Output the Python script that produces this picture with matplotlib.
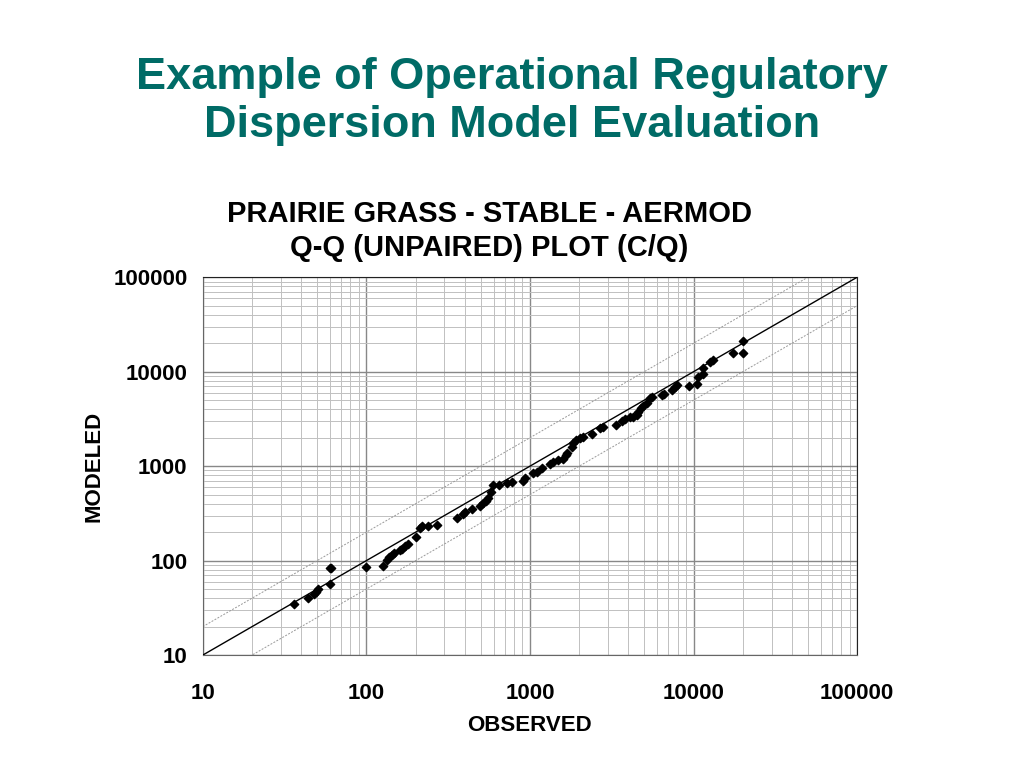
import numpy as np
import matplotlib
matplotlib.use('Agg')
import matplotlib.pyplot as plt

plt.rcParams['font.family'] = ['Liberation Sans', 'DejaVu Sans']

# Q-Q (unpaired) values, C/Q
observed = [36, 44, 48, 49, 51, 60, 60, 61, 99, 126, 133, 137, 143, 147, 160, 166,
            172, 180, 201, 213, 218, 239, 269, 356, 388, 400, 440, 494, 518, 538,
            551, 575, 597, 649, 720, 772, 902, 931, 1047, 1108, 1180, 1325, 1389,
            1490, 1600, 1653, 1691, 1799, 1841, 1911, 2023, 2100, 2384, 2679, 2806,
            3342, 3638, 3811, 4091, 4287, 4496, 4597, 4752, 4932, 5173, 5420, 5550,
            6394, 6600, 7362, 7716, 7896, 9425, 10460, 10700, 11480, 11480, 12620,
            13100, 17370, 20000, 20180]
modeled = [35, 40, 44, 47, 50, 56, 83, 84, 85, 88, 101, 108, 114, 121, 131, 132,
           142, 150, 176, 224, 232, 233, 241, 286, 310, 328, 356, 377, 403, 429,
           455, 535, 630, 630, 666, 682, 699, 741, 837, 858, 946, 1051, 1111,
           1157, 1178, 1307, 1383, 1578, 1739, 1884, 1964, 2042, 2181, 2506, 2606,
           2717, 3016, 3143, 3276, 3276, 3467, 3757, 4083, 4317, 4678, 5206, 5412,
           5640, 5775, 6368, 6905, 7195, 7027, 7380, 8690, 9420, 10820, 12700,
           13460, 15590, 15820, 21180]

line_x = [10, 100000]
factor = 2
ticks = [10, 100, 1000, 10000, 100000]
tick_labels = ['10', '100', '1000', '10000', '100000']

fig = plt.figure(figsize=(10.24, 7.68), dpi=100)
ax = fig.add_axes([0.198, 0.147, 0.639, 0.492])

ax.plot(line_x, line_x, color='black', linewidth=1.0, zorder=3)
ax.plot(line_x, [v * factor for v in line_x], color='#999999', linewidth=0.7,
        linestyle=(0, (2, 1.5)), zorder=2)
ax.plot(line_x, [v / factor for v in line_x], color='#999999', linewidth=0.7,
        linestyle=(0, (2, 1.5)), zorder=2)
ax.scatter(observed, modeled, marker='D', s=18, color='black', zorder=4)

ax.set_xscale('log')
ax.set_yscale('log')
ax.set_xlim(10, 100000)
ax.set_ylim(10, 100000)
ax.set_xticks(ticks)
ax.set_xticklabels(tick_labels)
ax.set_yticks(ticks)
ax.set_yticklabels(tick_labels)
ax.minorticks_on()
ax.grid(True, which='major', color='#888888', linewidth=1.0)
ax.grid(True, which='minor', color='#c0c0c0', linewidth=0.7)
ax.set_axisbelow(True)
ax.tick_params(which='both', length=0)
ax.tick_params(axis='x', pad=20)
ax.tick_params(axis='y', pad=11)
ax.xaxis.set_minor_formatter(matplotlib.ticker.NullFormatter())
ax.yaxis.set_minor_formatter(matplotlib.ticker.NullFormatter())
for lbl in ax.get_xticklabels() + ax.get_yticklabels():
    lbl.set_fontsize(16)
    lbl.set_fontweight('bold')
for side in ['left', 'bottom']:
    ax.spines[side].set_color('#666666')
for side in ['top', 'right']:
    ax.spines[side].set_color('#222222')

ax.set_xlabel('OBSERVED', fontsize=16, fontweight='bold', labelpad=8)
ax.set_ylabel('MODELED', fontsize=16, fontweight='bold', labelpad=6)

fig.text(0.5, 0.868, 'Example of Operational Regulatory\nDispersion Model Evaluation',
         ha='center', va='center', fontsize=32.5, fontweight='bold', color='#006b66',
         linespacing=1.2)
fig.text(0.478, 0.699, 'PRAIRIE GRASS - STABLE - AERMOD\nQ-Q (UNPAIRED) PLOT (C/Q)',
         ha='center', va='center', fontsize=21, fontweight='bold', color='black',
         linespacing=1.28)

fig.savefig('out.png', dpi=100)
